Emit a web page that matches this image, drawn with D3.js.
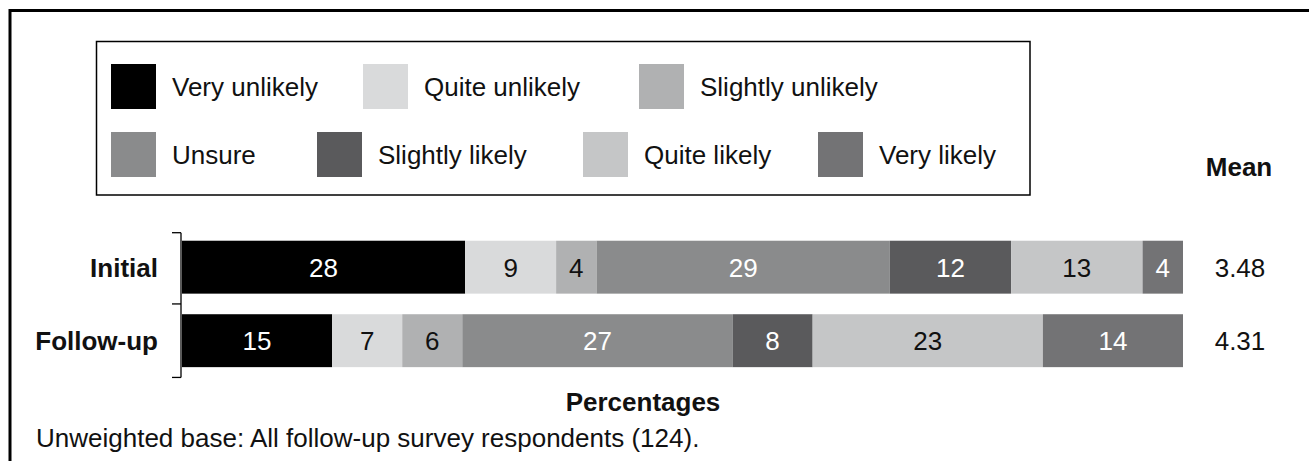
<!DOCTYPE html>
<html>
<head>
<meta charset="utf-8">
<script src="https://cdn.jsdelivr.net/npm/d3@7"></script>
<style>
  html, body { margin: 0; padding: 0; background: #fff; }
  svg { display: block; font-family: "Liberation Sans", Arial, Helvetica, sans-serif; }
</style>
</head>
<body>
<svg id="chart" width="1309" height="461"></svg>
<script>
// Likelihood responses, in percent, for each survey wave
const categories = ["Initial", "Follow-up"];
const responses = ["Very unlikely", "Quite unlikely", "Slightly unlikely", "Unsure",
                   "Slightly likely", "Quite likely", "Very likely"];
const initialValues  = [28, 9, 4, 29, 12, 13, 4];
const followUpValues = [15, 7, 6, 27, 8, 23, 14];
const meanScores = ["3.48", "4.31"];

const fills = ["#000000", "#d9dadb", "#b0b1b2", "#8a8b8c", "#5a5a5c", "#c5c6c7", "#737375"];
const labelInk = ["#ffffff", "#111111", "#111111", "#ffffff", "#ffffff", "#111111", "#ffffff"];

const rows = categories.map((c, i) => {
  const vals = i === 0 ? initialValues : followUpValues;
  const row = { category: c, mean: meanScores[i] };
  responses.forEach((r, j) => row[r] = vals[j]);
  return row;
});

const svg = d3.select("#chart");
const FONT = 26;

// Outer frame (open on the right and bottom edges)
svg.append("rect")
  .attr("x", 10).attr("y", 10.5)
  .attr("width", 1400).attr("height", 500)
  .attr("fill", "none").attr("stroke", "#000").attr("stroke-width", 3);

// Legend
const legendG = svg.append("g");
legendG.append("rect")
  .attr("x", 96.5).attr("y", 41.5)
  .attr("width", 933.5).attr("height", 153.5)
  .attr("fill", "#fff").attr("stroke", "#000").attr("stroke-width", 1.5);

const legendSlots = [[111, 64], [363, 64], [639, 64], [111, 132], [317, 132], [583, 132], [818, 132]];
const SW = 45;
const item = legendG.selectAll("g.item")
  .data(responses)
  .join("g")
  .attr("class", "item")
  .attr("transform", (d, i) => `translate(${legendSlots[i][0]},${legendSlots[i][1]})`);
item.append("rect")
  .attr("width", SW).attr("height", SW)
  .attr("fill", (d, i) => fills[i]);
item.append("text")
  .attr("x", SW + 16).attr("y", SW / 2).attr("dy", "0.36em")
  .attr("font-size", FONT).attr("fill", "#111")
  .text(d => d);

// Scales
const x = d3.scaleLinear().domain([0, 1]).range([182, 1183]);
const y = d3.scaleBand().domain(categories)
  .range([232.7, 379.7]).paddingInner(0.28).paddingOuter(0.14).align(0.39);

const stacked = d3.stack().keys(responses).offset(d3.stackOffsetExpand)(rows);

const layers = svg.append("g").selectAll("g.layer")
  .data(stacked)
  .join("g")
  .attr("class", "layer")
  .attr("fill", (d, i) => fills[i]);

layers.selectAll("rect")
  .data(d => d)
  .join("rect")
  .attr("x", d => x(d[0]))
  .attr("y", d => y(d.data.category))
  .attr("width", d => x(d[1]) - x(d[0]))
  .attr("height", y.bandwidth());

// Segment value labels
layers.each(function(layer, i) {
  d3.select(this).selectAll("text")
    .data(layer)
    .join("text")
    .attr("x", d => (x(d[0]) + x(d[1])) / 2)
    .attr("y", d => y(d.data.category) + y.bandwidth() / 2)
    .attr("dy", "0.36em")
    .attr("text-anchor", "middle")
    .attr("font-size", FONT)
    .attr("fill", labelInk[i])
    .text(d => d.data[layer.key]);
});

// Category axis drawn as a bracket with ticks at band edges
const axisX = 181;
const edges = [y.range()[0]].concat(categories.map(c => y(c) - y.step() * y.paddingInner() / 2 + y.step()));
const axisG = svg.append("g").attr("stroke", "#000").attr("stroke-width", 1.3);
axisG.append("line")
  .attr("x1", axisX).attr("x2", axisX)
  .attr("y1", edges[0]).attr("y2", edges[edges.length - 1]);
axisG.selectAll("line.tick")
  .data(edges)
  .join("line")
  .attr("class", "tick")
  .attr("x1", axisX - 9).attr("x2", axisX)
  .attr("y1", d => d).attr("y2", d => d);

svg.append("g").selectAll("text")
  .data(categories)
  .join("text")
  .attr("x", 158)
  .attr("y", d => y(d) + y.bandwidth() / 2)
  .attr("dy", "0.36em")
  .attr("text-anchor", "end")
  .attr("font-size", FONT).attr("font-weight", "bold").attr("fill", "#111")
  .text(d => d);

// Mean column
svg.append("text")
  .attr("x", 1239).attr("y", 176)
  .attr("text-anchor", "middle")
  .attr("font-size", FONT).attr("font-weight", "bold").attr("fill", "#111")
  .text("Mean");
svg.append("g").selectAll("text")
  .data(rows)
  .join("text")
  .attr("x", 1240)
  .attr("y", d => y(d.category) + y.bandwidth() / 2)
  .attr("dy", "0.36em")
  .attr("text-anchor", "middle")
  .attr("font-size", FONT).attr("fill", "#111")
  .text(d => d.mean);

// Axis title and base note
svg.append("text")
  .attr("x", 643).attr("y", 411)
  .attr("text-anchor", "middle")
  .attr("font-size", FONT).attr("font-weight", "bold").attr("fill", "#111")
  .text("Percentages");
svg.append("text")
  .attr("x", 36).attr("y", 447)
  .attr("font-size", FONT).attr("fill", "#111")
  .text("Unweighted base: All follow-up survey respondents (124).");
</script>
</body>
</html>
